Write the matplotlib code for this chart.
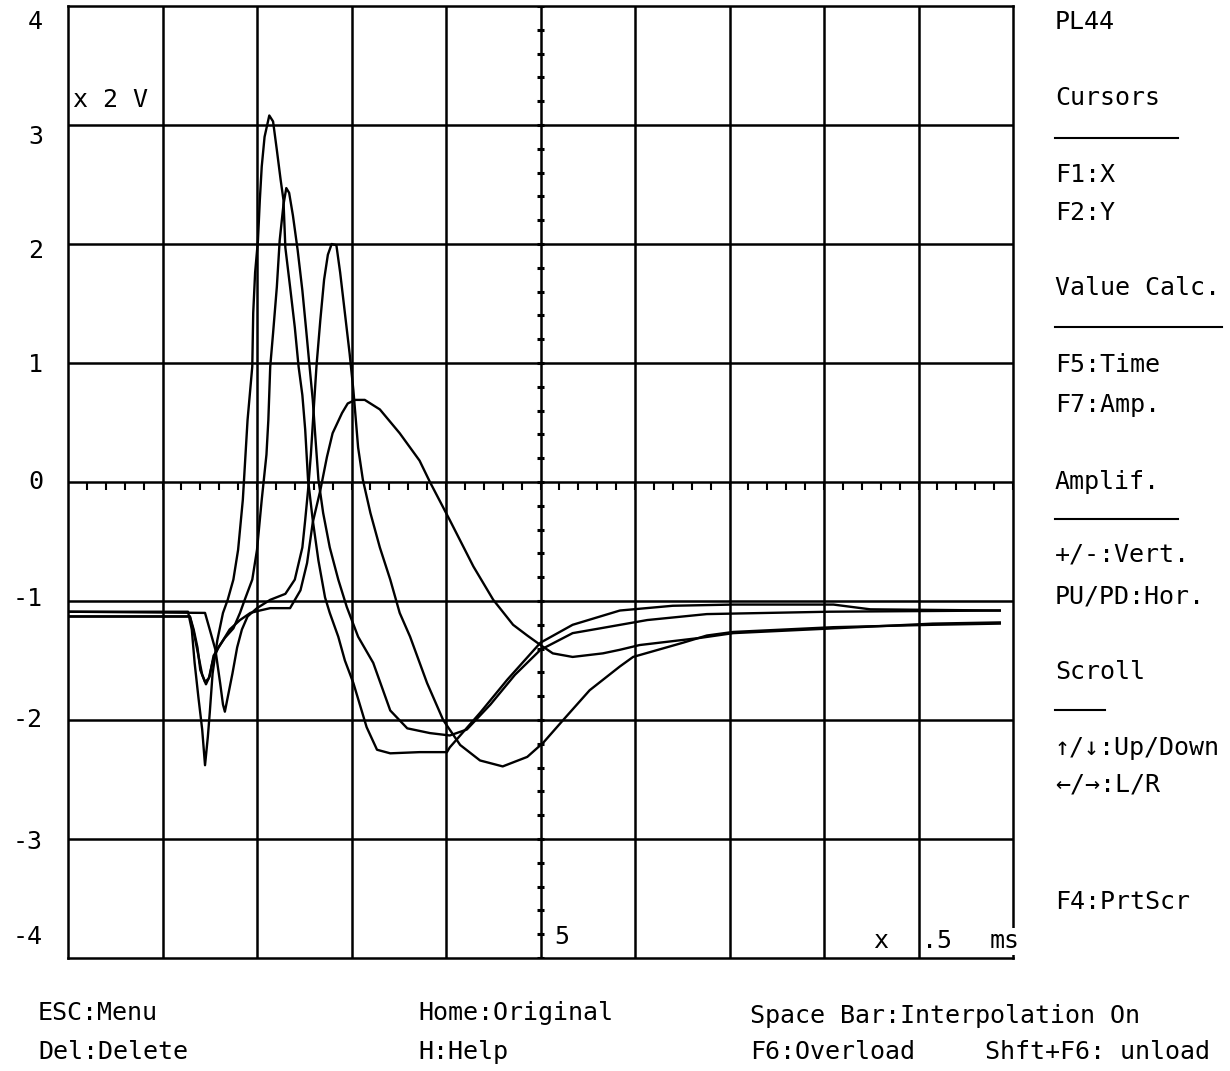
import numpy as np
import matplotlib.pyplot as plt
from matplotlib.lines import Line2D

# Scope screen: x in divisions (x .5 ms), y in divisions (x 2 V)
# four overlaid recordings

trace1_x = [0.00, 1.27, 1.31, 1.34, 1.38, 1.42, 1.45, 1.48, 1.50, 1.53, 1.58, 1.64, 1.69, 1.75,
            1.80, 1.85, 1.90, 1.95, 1.96, 1.98, 2.01, 2.03, 2.05, 2.08, 2.13, 2.17, 2.21, 2.25,
            2.28, 2.30, 2.35, 2.40, 2.44, 2.48, 2.51, 2.54, 2.59, 2.65, 2.72, 2.77, 2.86, 2.93,
            3.02, 3.16, 3.27, 3.41, 3.72, 4.01, 4.04, 4.36, 4.65, 5.00, 5.34, 5.84, 6.40, 7.04,
            8.10, 8.49, 9.86]
trace1_y = [-1.09, -1.09, -1.24, -1.52, -1.81, -2.08, -2.38, -2.14, -1.94, -1.61, -1.33, -1.10,
            -0.99, -0.82, -0.57, -0.15, 0.52, 0.97, 1.42, 1.76, 2.03, 2.37, 2.65, 2.90, 3.08,
            3.03, 2.79, 2.54, 2.37, 1.97, 1.64, 1.30, 0.97, 0.73, 0.44, 0.02, -0.32, -0.66,
            -0.97, -1.10, -1.30, -1.50, -1.69, -2.06, -2.25, -2.28, -2.27, -2.27, -2.23, -1.94,
            -1.66, -1.35, -1.20, -1.08, -1.04, -1.03, -1.03, -1.07, -1.08]

trace2_x = [0.00, 1.29, 1.33, 1.37, 1.40, 1.45, 1.49, 1.53, 1.59, 1.66, 1.75, 1.82, 1.87, 1.95,
            2.00, 2.05, 2.10, 2.12, 2.14, 2.17, 2.21, 2.24, 2.28, 2.31, 2.34, 2.38, 2.43, 2.48,
            2.52, 2.56, 2.59, 2.62, 2.65, 2.70, 2.77, 2.86, 2.95, 3.07, 3.23, 3.41, 3.59, 3.83,
            4.04, 4.22, 4.47, 4.73, 5.00, 5.34, 5.63, 6.13, 6.76, 8.06, 9.86]
trace2_y = [-1.13, -1.13, -1.24, -1.39, -1.58, -1.68, -1.65, -1.51, -1.39, -1.31, -1.23, -1.10,
            -0.99, -0.82, -0.57, -0.15, 0.23, 0.52, 0.97, 1.25, 1.64, 2.03, 2.33, 2.47, 2.43,
            2.24, 1.95, 1.61, 1.28, 0.94, 0.69, 0.35, 0.02, -0.26, -0.55, -0.82, -1.05, -1.30,
            -1.52, -1.92, -2.07, -2.11, -2.13, -2.08, -1.87, -1.62, -1.41, -1.27, -1.23, -1.16,
            -1.11, -1.09, -1.08]

trace3_x = [0.00, 1.45, 1.50, 1.56, 1.61, 1.64, 1.66, 1.69, 1.74, 1.79, 1.84, 1.90, 2.00, 2.14,
            2.30, 2.40, 2.48, 2.51, 2.54, 2.57, 2.60, 2.63, 2.67, 2.71, 2.75, 2.79, 2.84, 2.88,
            2.93, 2.98, 3.02, 3.07, 3.12, 3.20, 3.30, 3.41, 3.51, 3.62, 3.80, 3.97, 4.15, 4.36,
            4.60, 4.86, 5.03, 5.24, 5.52, 5.84, 5.98, 6.51, 6.76, 7.04, 8.10, 9.15, 9.86]
trace3_y = [-1.09, -1.10, -1.24, -1.41, -1.69, -1.87, -1.93, -1.81, -1.61, -1.39, -1.24, -1.13,
            -1.06, -0.99, -0.94, -0.82, -0.55, -0.32, -0.07, 0.23, 0.61, 0.98, 1.36, 1.70, 1.91,
            2.00, 1.99, 1.76, 1.42, 1.08, 0.77, 0.29, 0.02, -0.26, -0.55, -0.82, -1.10, -1.30,
            -1.69, -2.00, -2.21, -2.34, -2.39, -2.31, -2.19, -2.00, -1.75, -1.55, -1.47, -1.35,
            -1.29, -1.26, -1.22, -1.20, -1.19]

trace4_x = [0.00, 1.29, 1.33, 1.38, 1.42, 1.46, 1.50, 1.54, 1.61, 1.71, 1.82, 1.93, 2.03, 2.14,
            2.35, 2.46, 2.53, 2.59, 2.67, 2.74, 2.80, 2.90, 2.96, 3.04, 3.14, 3.30, 3.51, 3.72,
            3.83, 4.04, 4.29, 4.50, 4.71, 4.86, 5.00, 5.13, 5.34, 5.66, 5.84, 6.05, 6.69, 7.04,
            8.10, 9.15, 9.86]
trace4_y = [-1.13, -1.13, -1.26, -1.46, -1.62, -1.70, -1.63, -1.46, -1.37, -1.24, -1.16, -1.10,
            -1.08, -1.06, -1.06, -0.91, -0.68, -0.34, -0.07, 0.21, 0.41, 0.58, 0.66, 0.69, 0.69,
            0.61, 0.41, 0.18, 0.00, -0.32, -0.71, -0.99, -1.20, -1.29, -1.37, -1.44, -1.47,
            -1.44, -1.41, -1.37, -1.31, -1.27, -1.23, -1.19, -1.18]

y_labels = ['4', '3', '2', '1', '0', '-1', '-2', '-3', '-4']

menu_labels = ['PL44', 'Cursors', 'F1:X', 'F2:Y', 'Value Calc.', 'F5:Time', 'F7:Amp.',
               'Amplif.', '+/-:Vert.', 'PU/PD:Hor.', 'Scroll', '↑/↓:Up/Down', '←/→:L/R',
               'F4:PrtScr']
footer_labels = ['ESC:Menu', 'Del:Delete', 'Home:Original', 'H:Help',
                 'Space Bar:Interpolation On', 'F6:Overload', 'Shft+F6: unload']

plt.rcParams['font.family'] = ['DejaVu Sans Mono', 'DejaVu Sans']

W, H = 1230, 1071
fig = plt.figure(figsize=(W / 100, H / 100), dpi=100)
ax = fig.add_axes([68 / W, 1 - 958 / H, (1013 - 68) / W, (958 - 6) / H])
ax.set_xlim(0, 10)
ax.set_ylim(-4, 4)
ax.set_xticks([])
ax.set_yticks([])
for s in ax.spines.values():
    s.set_linewidth(1.8)

# screen grid
for gx in range(1, 10):
    ax.axvline(gx, color='black', lw=1.8, zorder=1)
for gy in range(-3, 4):
    ax.axhline(gy, color='black', lw=1.8, zorder=1)

# small division marks on the centre cross
ax.vlines(np.arange(0, 10.01, 0.2), -0.07, 0, color='black', lw=1.5, zorder=1)
ax.hlines(np.arange(-4, 4.01, 0.2), 4.96, 5.04, color='black', lw=2.2, zorder=1)

for tx, ty in [(trace1_x, trace1_y), (trace2_x, trace2_y),
               (trace3_x, trace3_y), (trace4_x, trace4_y)]:
    ax.plot(tx, ty, color='black', lw=1.7, zorder=3)

fs = 18


def screen_text(px, py, s, ha='left', **kw):
    fig.text(px / W, 1 - py / H, s, fontsize=fs, va='center', ha=ha, **kw)


# y scale labels
label_py = [22, 137, 251, 365, 482, 599, 720, 842, 937]
for lab, py in zip(y_labels, label_py):
    screen_text(43, py, lab, ha='right')

screen_text(73, 100, 'x 2 V')
screen_text(554, 937, '5')
screen_text(873, 941, 'x')
screen_text(922, 941, '.5')
screen_text(990, 941, 'ms', bbox=dict(facecolor='white', edgecolor='none', pad=1))

# right hand menu
menu_py = [22, 98, 175, 213, 288, 365, 405, 482, 555, 596, 672, 748, 785, 902]
for lab, py in zip(menu_labels, menu_py):
    screen_text(1055, py, lab)
for py, x0, x1 in [(138, 1055, 1178), (327, 1055, 1222), (519, 1055, 1178), (710, 1055, 1105)]:
    fig.add_artist(Line2D([x0 / W, x1 / W], [1 - py / H, 1 - py / H],
                          transform=fig.transFigure, color='black', lw=1.5))

# key help at the bottom
footer_pos = [(38, 1013), (38, 1052), (418, 1013), (418, 1052),
              (750, 1016), (750, 1052), (985, 1052)]
for lab, (px, py) in zip(footer_labels, footer_pos):
    screen_text(px, py, lab)

fig.savefig('out.png', dpi=100, facecolor='white')
